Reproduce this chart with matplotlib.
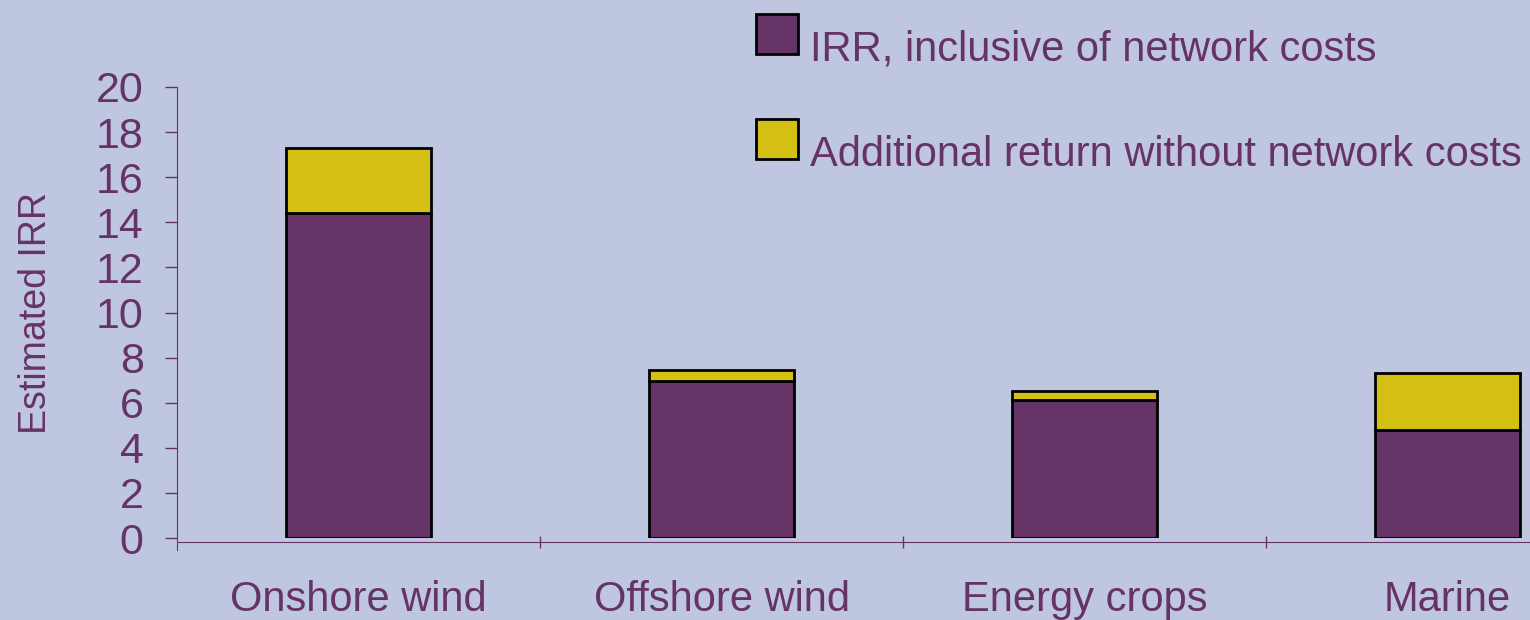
import matplotlib
matplotlib.use('Agg')
import matplotlib.pyplot as plt
from matplotlib.patches import Rectangle
import numpy as np

# values
categories = ['Onshore wind', 'Offshore wind', 'Energy crops', 'Marine']
irr_with_network = [14.4, 6.95, 6.1, 4.8]
irr_total = [17.3, 7.45, 6.5, 7.3]
extra_return = [t - b for t, b in zip(irr_total, irr_with_network)]
legend_labels = ['IRR, inclusive of network costs', 'Additional return without network costs']
yticks = list(range(0, 21, 2))

bg = '#bfc7e0'
purple = '#663366'
yellow = '#d4c014'

plt.rcParams['font.family'] = ['Liberation Sans', 'DejaVu Sans']

W, H = 1530, 620
fig = plt.figure(figsize=(W / 100, H / 100), dpi=100, facecolor=bg)
# axis spans four category slots, the last one runs past the right edge
ax = fig.add_axes([177 / W, (H - 538) / H, 1452 / W, 451 / H])
ax.set_facecolor(bg)

x = np.arange(len(categories))
ax.bar(x, irr_with_network, width=0.4, color=purple, edgecolor='black', linewidth=2, zorder=3)
ax.bar(x, extra_return, bottom=irr_with_network, width=0.4, color=yellow, edgecolor='black',
       linewidth=2, zorder=3)

ax.set_xlim(-0.5, 3.5)
ax.set_ylim(0, 20)
ax.set_yticks(yticks)
ax.set_xticks(x + 0.5)
ax.set_xticklabels([])
ax.set_xticks(x, minor=True)
ax.set_xticklabels(categories, minor=True)

for s in ['top', 'right']:
    ax.spines[s].set_visible(False)
ax.spines['left'].set_color(purple)
ax.spines['bottom'].set_color(purple)
ax.spines['bottom'].set_position(('outward', 3))
ax.spines['left'].set_bounds(-0.55, 20)

ax.tick_params(axis='y', colors=purple, labelsize=31, length=9, width=1, pad=15)
ax.tick_params(axis='x', which='major', colors=purple, length=9, width=1, direction='inout')
ax.tick_params(axis='x', which='minor', length=0, labelsize=30, labelcolor=purple, pad=27)

ax.set_ylabel('Estimated IRR', color=purple, fontsize=27, labelpad=30)

# legend drawn by hand in pixel positions
legend_colors = [purple, yellow]
legend_y = [14, 119]
for lab, col, ytop in zip(legend_labels, legend_colors, legend_y):
    fig.patches.append(Rectangle((756 / W, (H - ytop - 40) / H), 42 / W, 40 / H,
                                 transform=fig.transFigure, facecolor=col,
                                 edgecolor='black', linewidth=2))
    fig.text(810 / W, (H - ytop - 36) / H, lab, color=purple, fontsize=30,
             va='center', ha='left')

fig.savefig('out.png', dpi=100, facecolor=bg)
